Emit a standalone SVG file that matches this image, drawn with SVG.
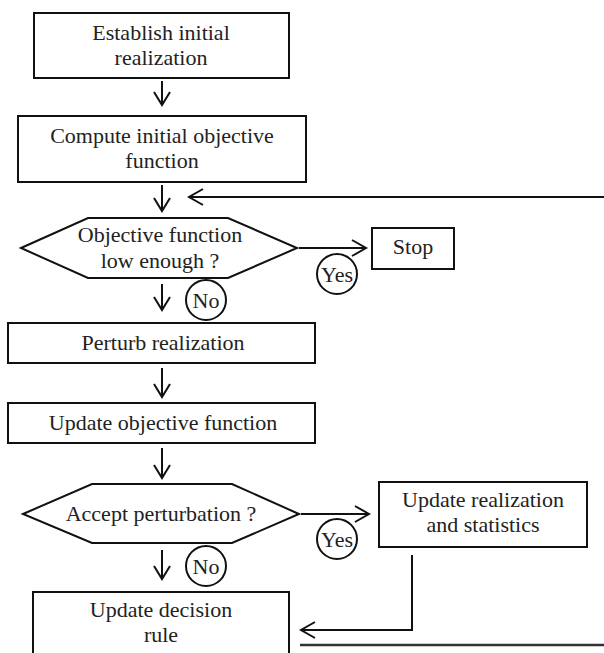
<svg xmlns="http://www.w3.org/2000/svg" width="604" height="653" viewBox="0 0 604 653">
<style>
.box{fill:#fff;stroke:#111;stroke-width:2}
.ln{fill:none;stroke:#111;stroke-width:2}
.hd{fill:none;stroke:#111;stroke-width:2;stroke-linejoin:miter}
.t{font-family:"Liberation Serif","Times New Roman",serif;font-size:22px;fill:#222;text-anchor:middle}
.c{fill:#fff;stroke:#111;stroke-width:2}
</style>
<rect width="604" height="653" fill="#fff"/>
<g id="connectors">
<path class="ln" d="M162,81 V105"/><path class="hd" d="M154,92 L162,105 L170,92"/>
<path class="ln" d="M162,185 V211"/><path class="hd" d="M154,198 L162,211 L170,198"/>
<path class="ln" d="M189,197 H604"/><path class="hd" d="M203,189 L189,197 L203,205"/>
<path class="ln" d="M299,248 H366"/><path class="hd" d="M352,240 L366,248 L352,256"/>
<path class="ln" d="M162,284 V310"/><path class="hd" d="M154,297 L162,310 L170,297"/>
<path class="ln" d="M162,368 V397"/><path class="hd" d="M154,384 L162,397 L170,384"/>
<path class="ln" d="M162,448 V478"/><path class="hd" d="M154,465 L162,478 L170,465"/>
<path class="ln" d="M301,514 H369"/><path class="hd" d="M355,506 L369,514 L355,522"/>
<path class="ln" d="M162,550 V579"/><path class="hd" d="M154,566 L162,579 L170,566"/>
<path class="ln" d="M412,555 V630 H301"/><path class="hd" d="M315,622 L301,630 L315,638"/>
<path d="M300,645 H604" fill="none" stroke="#333" stroke-width="2.5"/>
</g>
<g id="n1"><rect class="box" x="34" y="13" width="255" height="65"/><text class="t" x="161" y="40">Establish initial</text><text class="t" x="161" y="65">realization</text></g>
<g id="n2"><rect class="box" x="18" y="116" width="288" height="66"/><text class="t" x="162" y="143">Compute initial objective</text><text class="t" x="162" y="168">function</text></g>
<g id="n3"><polygon class="box" points="21,248 88,218 228,218 297,248 228,278 88,278"/><text class="t" x="160" y="242">Objective function</text><text class="t" x="160" y="268">low enough ?</text></g>
<g id="n4"><rect class="box" x="372" y="228" width="82" height="41"/><text class="t" x="413" y="254">Stop</text></g>
<g id="yes1"><circle class="c" cx="337" cy="274" r="20"/><text class="t" x="337" y="282">Yes</text></g>
<g id="no1"><circle class="c" cx="206" cy="300" r="20"/><text class="t" x="206" y="308">No</text></g>
<g id="n5"><rect class="box" x="8" y="323" width="307" height="40"/><text class="t" x="163" y="350">Perturb realization</text></g>
<g id="n6"><rect class="box" x="8" y="403" width="307" height="40"/><text class="t" x="163" y="430">Update objective function</text></g>
<g id="n7"><polygon class="box" points="23,514 92,484 232,484 299,514 232,543 92,543"/><text class="t" x="161" y="521">Accept perturbation ?</text></g>
<g id="n8"><rect class="box" x="379" y="482" width="208" height="65"/><text class="t" x="483" y="507">Update realization</text><text class="t" x="483" y="532">and statistics</text></g>
<g id="yes2"><circle class="c" cx="337" cy="539" r="20"/><text class="t" x="337" y="547">Yes</text></g>
<g id="no2"><circle class="c" cx="206" cy="566" r="20"/><text class="t" x="206" y="574">No</text></g>
<g id="n9"><path class="ln" d="M33,654 V592 H289 V654"/><text class="t" x="161" y="617">Update decision</text><text class="t" x="161" y="642">rule</text></g>
</svg>
